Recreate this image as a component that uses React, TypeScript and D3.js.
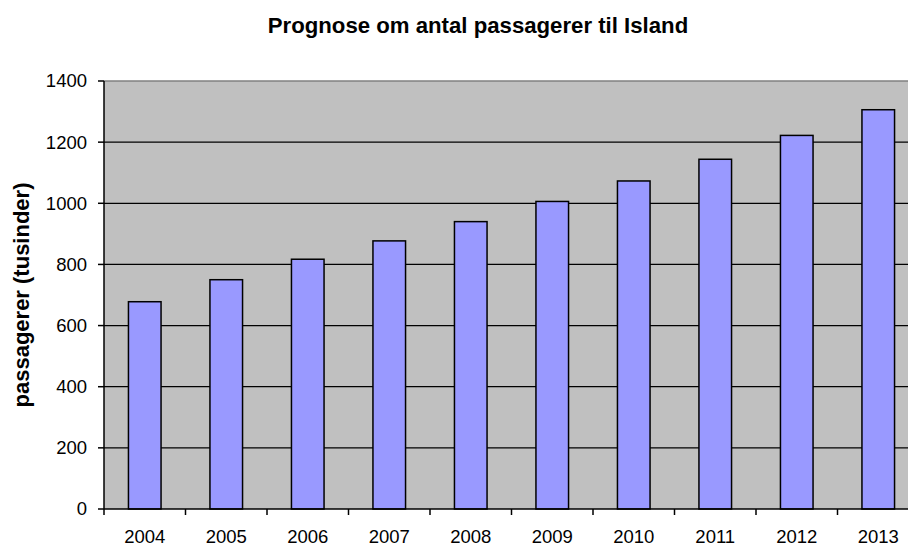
import React from "react";
import * as d3 from "d3";

const years = ["2004", "2005", "2006", "2007", "2008", "2009", "2010", "2011", "2012", "2013"];
const passengers = [678, 750, 817, 877, 940, 1006, 1073, 1144, 1222, 1306];
const yTicks = [0, 200, 400, 600, 800, 1000, 1200, 1400];
const title = "Prognose om antal passagerer til Island";
const yLabel = "passagerer (tusinder)";

export default function App() {
  const W = 908, H = 546;
  const left = 104, top = 81, bottom = 509;
  const step = 81.5;
  const right = left + step * years.length;
  const x = d3.scaleBand().domain(years).range([left, right]).paddingInner(0.6).paddingOuter(0.3);
  const xb = d3.scaleBand().domain(years).range([left, right]);
  const y = d3.scaleLinear().domain([0, 1400]).range([bottom, top]);
  const font = "Liberation Sans, Arial, sans-serif";
  return (
    <svg width={W} height={H} style={{ position: "absolute", left: 0, top: 0 }} fontFamily={font}>
      <rect x={0} y={0} width={W} height={H} fill="#fff" />
      <rect x={left} y={top} width={right - left} height={bottom - top} fill="#C0C0C0" />
      <line x1={left} x2={right} y1={top} y2={top} stroke="#808080" strokeWidth={1.5} />
      {yTicks.filter(t => t > 0 && t < 1400).map(t => (
        <line key={t} x1={left} x2={right} y1={y(t)} y2={y(t)} stroke="#000" strokeWidth={1.2} />
      ))}
      {years.map((yr, i) => (
        <rect key={yr} x={x(yr)!} y={y(passengers[i])} width={x.bandwidth()} height={bottom - y(passengers[i])}
          fill="#9999FF" stroke="#000" strokeWidth={1.5} />
      ))}
      <line x1={left} x2={left} y1={top} y2={bottom} stroke="#000" strokeWidth={1.5} />
      <line x1={left} x2={right} y1={bottom} y2={bottom} stroke="#000" strokeWidth={1.5} />
      {yTicks.map(t => (
        <g key={t}>
          <line x1={left - 6} x2={left} y1={y(t)} y2={y(t)} stroke="#000" strokeWidth={1.5} />
          <text x={left - 17} y={y(t)} dy="0.35em" textAnchor="end" fontSize={18.5}>{t}</text>
        </g>
      ))}
      {years.map((yr, i) => (
        <g key={yr}>
          <line x1={xb(yr)!} x2={xb(yr)!} y1={bottom} y2={bottom + 6} stroke="#000" strokeWidth={1.5} />
          <text x={xb(yr)! + step / 2} y={543} textAnchor="middle" fontSize={18.5}>{yr}</text>
        </g>
      ))}
      <text x={478} y={33} textAnchor="middle" fontSize={22.2} fontWeight="bold">{title}</text>
      <text transform={`translate(28.5,${(top + bottom) / 2}) rotate(-90)`} textAnchor="middle" fontSize={22} fontWeight="bold">{yLabel}</text>
    </svg>
  );
}
